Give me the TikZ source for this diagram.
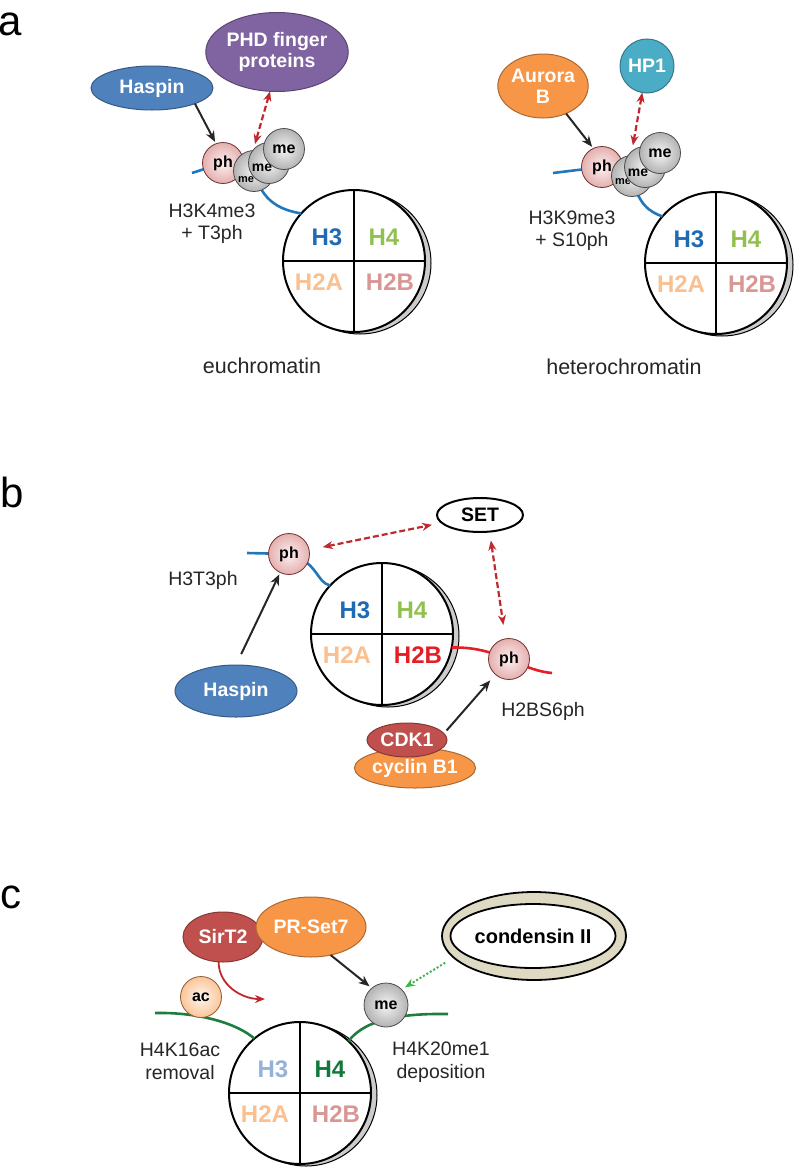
\documentclass[tikz,border=0pt]{standalone}
\usepackage{fontspec}
\setmainfont{Liberation Sans}
\usetikzlibrary{shapes.geometric,arrows.meta,positioning,backgrounds}

\definecolor{offblue}{HTML}{4F81BD}
\definecolor{offpurple}{HTML}{8064A2}
\definecolor{offorange}{HTML}{F79646}
\definecolor{offaqua}{HTML}{4BACC6}
\definecolor{offred}{HTML}{C0504D}
\definecolor{hthree}{HTML}{1F6AB4}
\definecolor{hthreepale}{HTML}{95B3D7}
\definecolor{hfour}{HTML}{92C050}
\definecolor{hfourdark}{HTML}{12783A}
\definecolor{htwoa}{HTML}{FAC090}
\definecolor{htwob}{HTML}{D99694}
\definecolor{htwobred}{HTML}{E41E26}
\definecolor{tailblue}{HTML}{1F78BE}
\definecolor{tailred}{HTML}{E41E26}
\definecolor{tailgreen}{HTML}{1E7E3E}
\definecolor{bindred}{HTML}{C0282D}
\definecolor{condgreen}{HTML}{3DB54A}
\definecolor{khaki}{HTML}{DDD9C3}

\begin{document}
\begin{tikzpicture}[x=1pt,y=-1pt,
    every node/.style={inner sep=0pt, outer sep=0pt},
    enzyme/.style={ellipse, draw=#1!70!black, fill=#1, line width=1pt, text=white,
        align=center, font=\bfseries\fontsize{19.5}{21}\selectfont},
    mod/.style={circle, minimum size=41pt, line width=0.8pt, font=\bfseries\fontsize{16}{16}\selectfont},
    phos/.style={mod, draw=offred!60!black, inner color=red!6, outer color=offred!45},
    meth/.style={mod, draw=black!70, inner color=black!4, outer color=black!30},
    acet/.style={mod, draw=offorange!60!black, inner color=offorange!8, outer color=offorange!55},
    tinyme/.style={font=\bfseries\fontsize{11}{11}\selectfont},
    nucleo/.style={circle, draw, line width=2pt, fill=white, minimum size=142pt},
    nucshade/.style={circle, draw, line width=1pt, fill=black!20, minimum size=142pt},
    hist/.style={font=\bfseries\fontsize{24}{24}\selectfont},
    lab/.style={align=center, text=black!85, font=\fontsize{19.5}{22}\selectfont},
    chromlab/.style={text=black!85, font=\fontsize{21.5}{22}\selectfont},
    panel/.style={font=\fontsize{42}{42}\selectfont},
    tail/.style={line width=2.6pt, draw=#1},
    act/.style={-{Stealth[length=11pt,width=9pt]}, line width=2pt, black!85},
    bind/.style={{Stealth[length=10pt,width=8pt]}-{Stealth[length=10pt,width=8pt]},
        line width=2.2pt, dash pattern=on 6pt off 3pt, bindred},
    cbind/.style={-{Stealth[length=10pt,width=8pt]}, line width=2pt, dash pattern=on 2pt off 2pt, condgreen},
    redturn/.style={-{Stealth[length=10pt,width=8pt]}, line width=1.8pt, bindred}
]
\useasboundingbox (0,0) rectangle (800,1170);

\node[panel] (pa) at (10,24) {a};
\node[panel] (pb) at (12,492) {b};
\node[panel] (pc) at (11,897) {c};

% panel a, euchromatin
\node[enzyme=offblue, minimum width=122pt, minimum height=44pt] (hasA) at (152,88) {Haspin};
\node[enzyme=offpurple, minimum width=130pt, minimum height=79pt] (phd) at (277,52) {PHD finger\\proteins};
\node[phos] (phA) at (223,163) {ph};
\node[meth] (meA1) at (254,171) {};
\node[tinyme] (meA1t) at (246,180) {me};
\node[meth] (meA2) at (269,163) {};
\node[tinyme, font=\bfseries\fontsize{14}{14}\selectfont] (meA2t) at (262,168) {me};
\node[meth] (meA3) at (284,149) {me};
\node[lab] (labA) at (212,224) {H3K4me3\\+ T3ph};
\node[chromlab] (eu) at (262,366) {euchromatin};

\draw[act, shorten >=2pt] (hasA.-20) -- (phA.110);
\draw[bind, shorten >=6pt] (phd.-100) -- (meA2.140);

% panel a, heterochromatin
\node[enzyme=offorange, minimum width=90pt, minimum height=64pt] (aur) at (543,86) {Aurora\\B};
\node[enzyme=offaqua, circle, minimum size=54pt] (hp1) at (647,66) {HP1};
\node[phos] (phE) at (602,167) {ph};
\node[meth] (meE1) at (632,176) {};
\node[tinyme] (meE1t) at (623,182) {me};
\node[meth] (meE2) at (645,167) {};
\node[tinyme, font=\bfseries\fontsize{14}{14}\selectfont] (meE2t) at (638,173) {me};
\node[meth] (meE3) at (660,153) {me};
\node[lab] (labE) at (572,231) {H3K9me3\\+ S10ph};
\node[chromlab] (hetero) at (624,367) {heterochromatin};

\draw[act, shorten >=2pt] (aur.-50) -- (phE.115);
\draw[bind, shorten >=6pt] (hp1.-100) -- (meE2.130);

% panel b
\node[enzyme=offblue, minimum width=122pt, minimum height=52pt] (hasB) at (236,691) {Haspin};
\node[ellipse, draw, line width=2pt, minimum width=86pt, minimum height=34pt,
      font=\bfseries\fontsize{19.5}{21}\selectfont] (set) at (480,515) {SET};
\node[phos] (phB1) at (289,554) {ph};
\node[phos] (phB2) at (509,659) {ph};
\node[enzyme=offorange, minimum width=112pt, minimum height=40pt] (cyc) at (415,768) {cyclin B1};
\node[enzyme=offred, minimum width=80pt, minimum height=34pt] (cdk) at (407,740) {CDK1};
\node[lab] (labB1) at (203,580) {H3T3ph};
\node[lab] (labB2) at (543,711) {H2BS6ph};

\draw[act, shorten <=12pt, shorten >=2pt] (hasB.north) -- (phB1);
\draw[act, shorten <=4pt, shorten >=8pt] (cdk.10) -- (phB2);
\draw[bind, shorten <=14pt, shorten >=10pt] (phB1) -- (set);
\draw[bind, shorten <=9pt, shorten >=14pt] (set.-60) -- (phB2.100);

% panel c
\node[enzyme=offred, minimum width=80pt, minimum height=50pt] (sir) at (223,937) {SirT2};
\node[enzyme=offorange, minimum width=110pt, minimum height=60pt] (prs) at (311,927) {PR-Set7};
\node[acet] (ac) at (201,997) {ac};
\node[meth, minimum size=44pt] (meC) at (386,1005) {me};
\node[ellipse, draw, line width=1.8pt, fill=khaki, minimum width=184pt, minimum height=88pt] (condo) at (534,936) {};
\node[ellipse, draw, line width=1.8pt, fill=white, minimum width=160pt, minimum height=64pt,
      font=\bfseries\fontsize{20}{21}\selectfont] (cond) at (533,936) {condensin II};
\node[lab, font=\fontsize{19.5}{23}\selectfont] (labC1) at (180,1061) {H4K16ac\\removal};
\node[lab, font=\fontsize{19.5}{23}\selectfont] (labC2) at (441,1062) {H4K20me1\\deposition};
\coordinate (rmv) at (265,999);

\draw[redturn] (sir.-100) to[out=-90, in=180] (rmv);
\draw[act, shorten >=3pt] (prs.-55) -- (meC.130);
\draw[cbind, shorten <=10pt, shorten >=4pt] (condo.-165) -- (meC.45);

\begin{scope}[on background layer]
\foreach \n/\x/\y/\ca/\cb/\cc in {a/354/261/hthree/hfour/htwob, e/716/263/hthree/hfour/htwob,
    b/382/634/hthree/hfour/htwobred, c/300/1093/hthreepale/hfourdark/htwob}{
  \node[nucshade] (sh\n) at (\x+6,\y+2) {};
  \node[nucleo] (nuc\n) at (\x,\y) {};
  \draw[line width=2pt] (nuc\n.north) -- (nuc\n.south) (nuc\n.west) -- (nuc\n.east);
  \node[hist, text=\ca] (hthree\n) at (\x-27,\y-24) {H3};
  \node[hist, text=\cb] (hfour\n) at (\x+30,\y-24) {H4};
  \node[hist, text=htwoa] (htwoa\n) at (\x-35,\y+21) {H2A};
  \node[hist, text=\cc] (htwob\n) at (\x+36,\y+21) {H2B};
}
\coordinate (ta) at (192,173);
\coordinate (te) at (553,173);
\coordinate (tb) at (247,553);
\coordinate (tbr) at (552,673);
\coordinate (tc1) at (155,1013);
\coordinate (tc2) at (448,1014);
\draw[tail=tailblue] (ta) -- (phA.center);
\draw[tail=tailblue] (meA1.center) .. controls (262,203) and (282,210) .. (nuca.138);
\draw[tail=tailblue] (te) -- (phE.center);
\draw[tail=tailblue] (meE1.center) .. controls (638,205) and (650,212) .. (nuce.139);
\draw[tail=tailblue] (tb) -- (phB1.center);
\draw[tail=tailblue] (phB1.center) .. controls (318,562) and (316,582) .. (nucb.137);
\draw[tail=tailred] (nucb.-11) .. controls (475,647) and (490,652) .. (phB2.center)
    .. controls (528,668) and (540,672) .. (tbr);
\draw[tail=tailgreen] (tc1) .. controls (200,1012) and (238,1024) .. (nucc.130);
\draw[tail=tailgreen] (nucc.47) .. controls (362,1024) and (388,1013) .. (tc2);
\end{scope}
\end{tikzpicture}
\end{document}
